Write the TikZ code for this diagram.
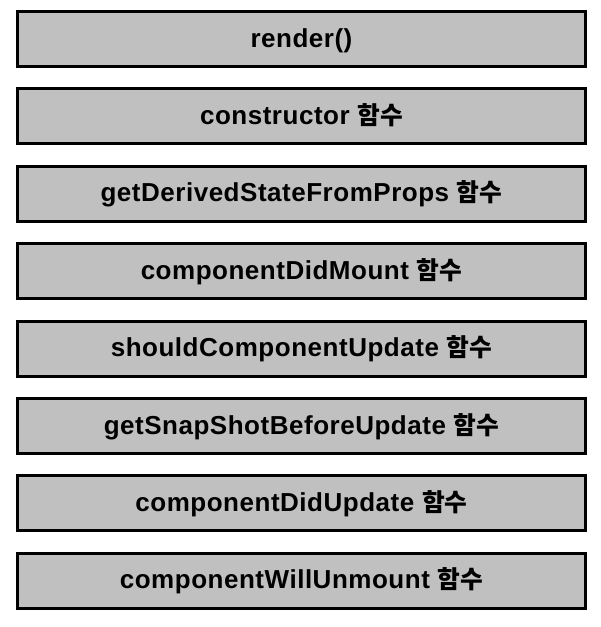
\documentclass[tikz,border=0pt]{standalone}
\usepackage{fontspec}
\setmainfont{Liberation Sans}[LetterSpace=2]
\newfontfamily\kr{Noto Sans CJK KR}[Scale=0.95]
\usepackage{xcolor}
\definecolor{boxgray}{HTML}{C0C0C0}
\usetikzlibrary{positioning}
\tikzset{
  lifecycle/.style={draw=black, line width=3pt, fill=boxgray,
    minimum width=568pt, minimum height=55pt, inner sep=0pt,
    text height=19pt, text depth=3pt,
    font=\bfseries\fontsize{26}{26}\selectfont}
}

\begin{document}
\begin{tikzpicture}[x=1pt, y=1pt]
	\useasboundingbox (0,0) rectangle (601,-627);

	\pgfmathsetmacro{\dy}{77.4}

	% Methods, top to bottom
	\foreach [count=\i] \txt in {render(), {constructor {\kr 함수}},
		{getDerivedStateFromProps {\kr 함수}}, {componentDidMount {\kr 함수}},
		{shouldComponentUpdate {\kr 함수}}, {getSnapShotBeforeUpdate {\kr 함수}},
		{componentDidUpdate {\kr 함수}}, {componentWillUnmount {\kr 함수}}}
	{
	\node[lifecycle] (fn\i) at (301.5, {-39-(\i-1)*\dy}) {\txt};
	}
\end{tikzpicture}
\end{document}
